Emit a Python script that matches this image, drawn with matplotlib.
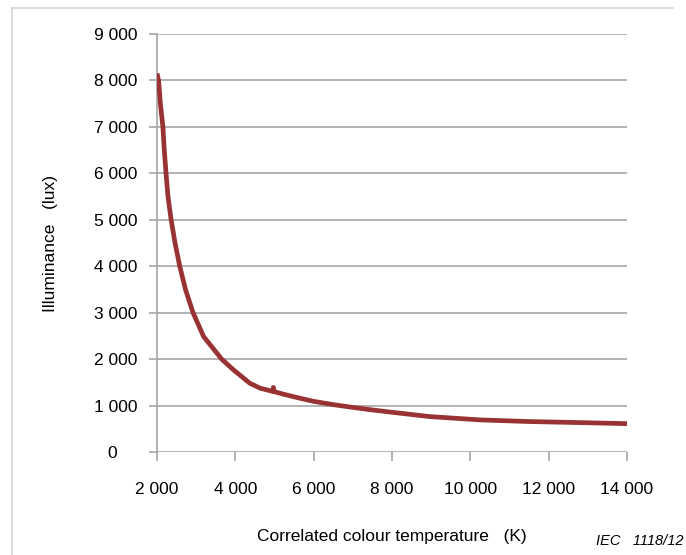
import matplotlib.pyplot as plt
from matplotlib.lines import Line2D

plt.rcParams['font.family'] = ['Liberation Sans', 'DejaVu Sans']

# colour temperature (K) and illuminance (lux)
cct = [2000, 2040, 2085, 2150, 2185, 2230, 2280, 2360, 2460, 2580, 2730,
       2920, 3190, 3650, 3950, 4370, 4630, 4950, 4970, 4990, 5225, 5650,
       6000, 6500, 7000, 7500, 8000, 8970, 10250, 11520, 12800, 14000]
lux = [8150, 8000, 7510, 7000, 6505, 6000, 5500, 5000, 4500, 4000, 3490,
       3000, 2485, 2000, 1770, 1480, 1375, 1305, 1390, 1300, 1245, 1158,
       1090, 1020, 960, 905, 855, 762, 691, 655, 633, 610]

x_ticks = [2000, 4000, 6000, 8000, 10000, 12000, 14000]
y_ticks = [0, 1000, 2000, 3000, 4000, 5000, 6000, 7000, 8000, 9000]


def fmt(v):
    return f"{v:,}".replace(",", " ")


grid_col = '#a6a6a6'
curve_col = '#993333'

fig = plt.figure(figsize=(6.86, 5.55), dpi=100)
ax = fig.add_axes([0.2289, 0.1856, 0.6851, 0.7531])

for y in y_ticks:
    ax.axhline(y, color=grid_col, lw=1.2, zorder=1)

ax.plot(cct, lux, color=curve_col, lw=3.4, solid_joinstyle='round',
        solid_capstyle='butt', zorder=3)

ax.set_xlim(2000, 14000)
ax.set_ylim(0, 9000)
ax.set_xticks(x_ticks)
ax.set_xticklabels([fmt(v) for v in x_ticks])
ax.set_yticks(y_ticks)
ylabels = [fmt(v) for v in y_ticks]
ylabels[0] = "0    "
ax.set_yticklabels(ylabels)

for s in ['top', 'right', 'bottom']:
    ax.spines[s].set_visible(False)
ax.spines['left'].set_color(grid_col)
ax.spines['left'].set_linewidth(1.2)

ax.tick_params(axis='x', length=6.5, width=1.2, color=grid_col, pad=15,
               labelsize=12.5, labelcolor='black')
ax.tick_params(axis='y', length=6, width=1.2, color=grid_col, pad=8,
               labelsize=12.5, labelcolor='black')

ax.set_xlabel('Correlated colour temperature   (K)', fontsize=12.5, labelpad=23)
ax.set_ylabel('Illuminance   (lux)', fontsize=12.5, labelpad=26)

fig.text(0.997, 0.025, 'IEC   1118/12', ha='right', va='center',
         fontsize=10.5, style='italic')

# light frame around the figure
frame_col = '#d4d4d4'
fig.add_artist(Line2D([12 / 686, 12 / 686], [0, 1 - 8 / 555],
                      color=frame_col, lw=1.2, transform=fig.transFigure))
fig.add_artist(Line2D([12 / 686, 673 / 686], [1 - 8 / 555, 1 - 8 / 555],
                      color=frame_col, lw=1.2, transform=fig.transFigure))

fig.savefig('out.png', dpi=100)
